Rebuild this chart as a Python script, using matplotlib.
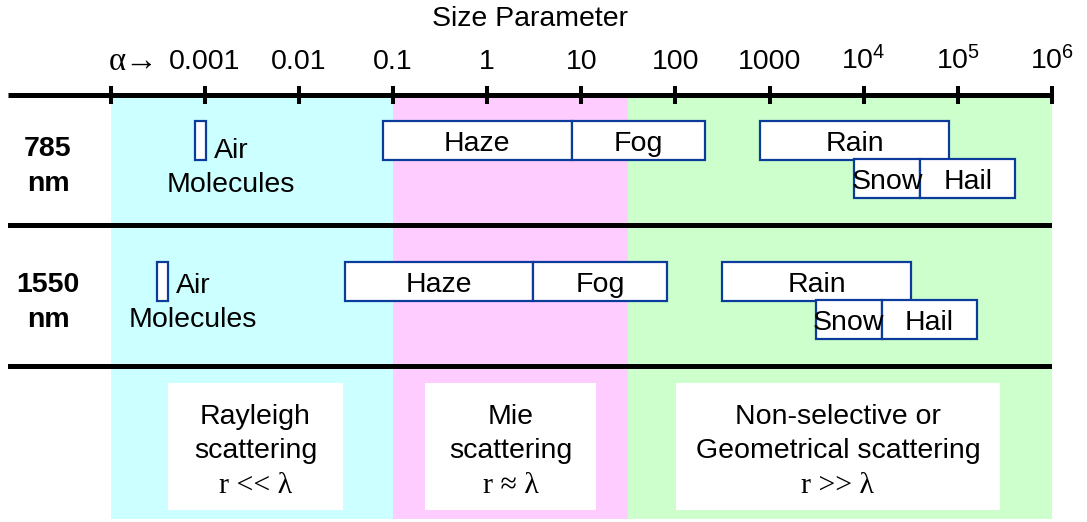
import matplotlib
matplotlib.use("Agg")
import matplotlib.pyplot as plt
from matplotlib.ticker import NullLocator

plt.rcParams["font.family"] = ["Liberation Sans", "DejaVu Sans"]
plt.rcParams["mathtext.fontset"] = "custom"
plt.rcParams["mathtext.rm"] = "Liberation Sans"
plt.rcParams["mathtext.it"] = "Liberation Sans:italic"
plt.rcParams["mathtext.bf"] = "Liberation Sans:bold"

# ---- axis decades -------------------------------------------------------
tick_values = [1e-4, 1e-3, 1e-2, 1e-1, 1, 10, 100, 1000, 1e4, 1e5, 1e6]
tick_labels = ["", "0.001", "0.01", "0.1", "1", "10", "100", "1000",
               r"$\mathregular{10^4}$", r"$\mathregular{10^5}$",
               r"$\mathregular{10^6}$"]

# ---- scattering regimes -------------------------------------------------
regime_bounds = [1e-4, 0.1, 31, 1e6]
regime_colors = ["#CCFFFF", "#FFCCFF", "#CCFFCC"]
regime_titles = [["Rayleigh", "scattering"],
                 ["Mie", "scattering"],
                 ["Non-selective or", "Geometrical scattering"]]
regime_relations = ["r << λ", "r ≈ λ", "r >> λ"]
# extent of each regime's caption card (size parameter)
card_lo = [4.1e-4, 0.22, 101]
card_hi = [0.0294, 14.4, 2.8e5]

# ---- particle size-parameter ranges per wavelength -----------------------
wavelengths = ["785", "1550"]
particles = ["Air", "Haze", "Fog", "Rain", "Snow", "Hail"]
lo_785 = [7.9e-4, 0.078, 7.9, 790, 7900, 40000]
hi_785 = [1.03e-3, 7.9, 205, 81000, 40000, 407000]
lo_1550 = [3.1e-4, 0.031, 3.1, 313, 3100, 15600]
hi_1550 = [4.1e-4, 3.1, 81, 32000, 15600, 161000]
ranges = [(lo_785, hi_785), (lo_1550, hi_1550)]

# ---- layout (vertical positions in pixel units of the figure) ------------
W, H = 1087, 522
FS = 20.5
BOX_EDGE = "#0B3C9C"
row_center = [140.7, 281.7]
lower_shift = 37.5
box_h = 39
air_text_base = [(158, 192), (293, 327)]
row_label_base = [(156, 191), (292, 327)]
separators = [225, 366]
card_top, card_bottom = 383, 510
card_baselines = [424, 458, 493]
serif = ["Liberation Serif", "DejaVu Serif"]

fig = plt.figure(figsize=(W / 100, H / 100), dpi=100)
ax_top_px = 94.5
ax = fig.add_axes([8 / W, 0, (1052 - 8) / W, (H - ax_top_px) / H])
ax.set_xscale("log")
px_per_decade = 94.15
ax.set_xlim(10 ** (-4 - (110.5 - 8) / px_per_decade), 1e6)
ax.set_ylim(H, ax_top_px)

for side in ("left", "right", "bottom"):
    ax.spines[side].set_visible(False)
ax.spines["top"].set_linewidth(3.6)
ax.spines["top"].set_capstyle("butt")
ax.set_yticks([])
ax.xaxis.set_ticks_position("top")
ax.set_xticks(tick_values)
ax.set_xticklabels(tick_labels)
ax.xaxis.set_minor_locator(NullLocator())
ax.tick_params(axis="x", which="major", direction="inout", length=13.5,
               width=2.9, pad=7, labelsize=FS, top=True, bottom=False,
               labeltop=True, labelbottom=False)
ax.patch.set_alpha(0)

# regime backgrounds
for i, col in enumerate(regime_colors):
    ax.fill_betweenx([97, 519], regime_bounds[i], regime_bounds[i + 1],
                     color=col, lw=0, zorder=0)

# horizontal separators between rows
for y in separators:
    ax.axhline(y, color="black", lw=3.6, zorder=3)

# particle boxes
for r, (lo, hi) in enumerate(ranges):
    yc = row_center[r]
    for name, a, b in zip(particles, lo, hi):
        y = yc + (lower_shift if name in ("Snow", "Hail") else 0)
        ax.barh(y, b - a, left=a, height=box_h, color="white",
                edgecolor=BOX_EDGE, linewidth=1.6, zorder=2)
        if name == "Air":
            for txt, yb in zip(["Air", "Molecules"], air_text_base[r]):
                ax.annotate(txt, xy=(b, yb), xytext=(18, 0),
                            textcoords="offset points", ha="center",
                            va="baseline", fontsize=FS, zorder=4)
        else:
            xm = (a * b) ** 0.5
            ax.text(xm, y + 10.6, name, ha="center", va="baseline",
                    fontsize=FS, zorder=4)
    # wavelength label
    for txt, yb in zip([wavelengths[r], "nm"], row_label_base[r]):
        ax.text((48 - 8) / (1052 - 8), yb, txt, ha="center", va="baseline",
                fontsize=FS, fontweight="bold",
                transform=ax.get_yaxis_transform())

# regime caption cards
for i in range(3):
    ax.fill_betweenx([card_top, card_bottom], card_lo[i], card_hi[i],
                     color="white", lw=0, zorder=1)
    xm = (card_lo[i] * card_hi[i]) ** 0.5
    for txt, yb in zip(regime_titles[i], card_baselines[:2]):
        ax.text(xm, yb, txt, ha="center", va="baseline", fontsize=FS,
                zorder=4)
    ax.text(xm, card_baselines[2], regime_relations[i], ha="center",
            va="baseline", fontsize=FS + 1, family=serif, zorder=4)

# axis title and the alpha arrow in front of the first label
fig.text(530 / W, 1 - 26 / H, "Size Parameter", ha="center",
         va="baseline", fontsize=FS)
fig.text(158 / W, 1 - 70 / H, "α→", ha="right", va="baseline",
         fontsize=FS + 3, family=serif)

fig.savefig("out.png", dpi=100)
